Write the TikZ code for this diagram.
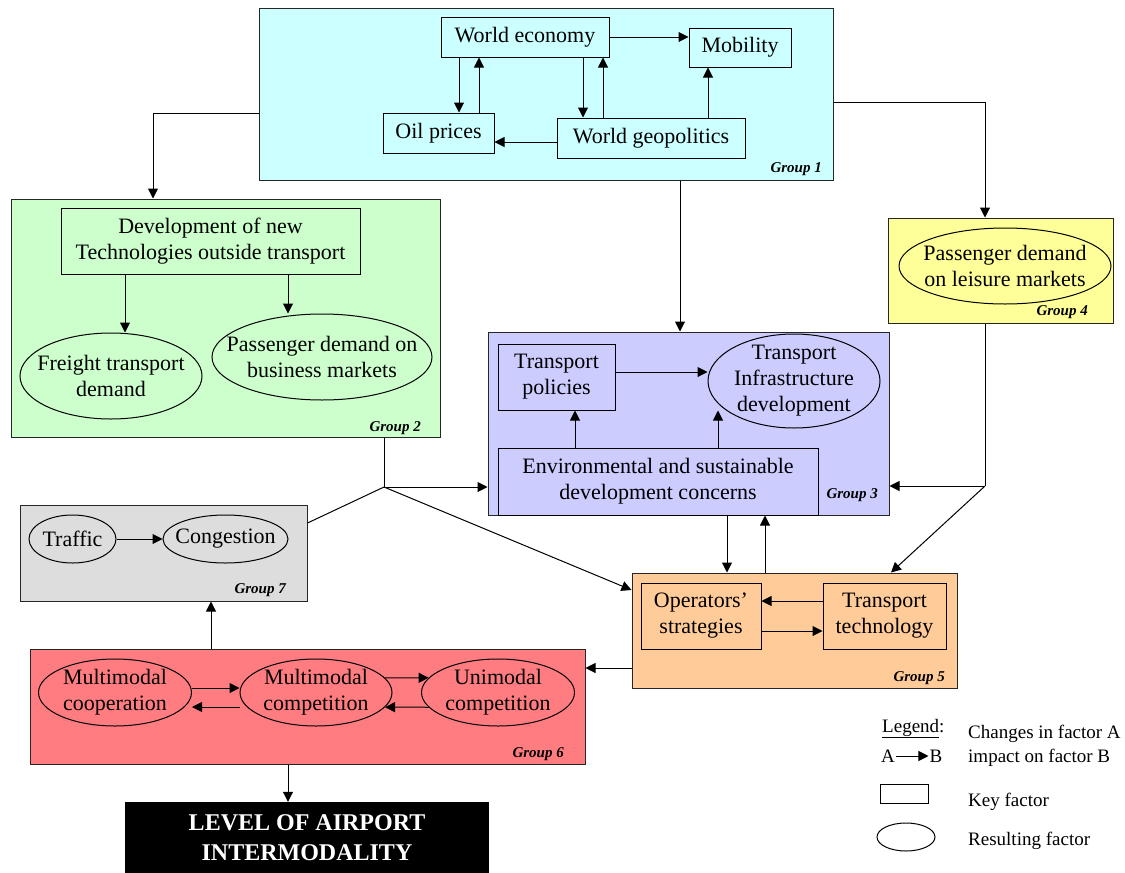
\documentclass[tikz,border=0pt]{standalone}
\usepackage{fontspec}
\setmainfont{Liberation Serif}
\usetikzlibrary{shapes.geometric,arrows.meta}
\definecolor{gcyan}{HTML}{CCFFFF}
\definecolor{ggreen}{HTML}{CCFFCC}
\definecolor{gviolet}{HTML}{CCCCFF}
\definecolor{gyellow}{HTML}{FFFF99}
\definecolor{gorange}{HTML}{FFCC99}
\definecolor{gred}{HTML}{FF7C80}
\definecolor{ggrey}{HTML}{DDDDDD}

\begin{document}
\begin{tikzpicture}[x=1pt,y=-1pt,font=\fontsize{22}{26}\selectfont]
        \tikzstyle{group}=[rectangle,draw=black!85,line width=1pt]
        \tikzstyle{keyf}=[rectangle,draw,line width=1pt,align=center,inner sep=2pt]
        \tikzstyle{resf}=[ellipse,draw,line width=1pt,inner sep=0pt]
        \tikzstyle{txt}=[align=center,inner sep=0pt]
        \tikzstyle{grp}=[anchor=base east,inner sep=0pt,font=\fontsize{15}{18}\selectfont\bfseries\itshape]
        \tikzstyle{arr}=[draw,line width=1pt,-{Triangle[length=10pt,width=10pt]}]
        \tikzstyle{line}=[draw,line width=1pt]
        \tikzstyle{legtxt}=[anchor=west,align=left,inner sep=0pt,font=\fontsize{19}{24}\selectfont]
        \useasboundingbox (0,0) rectangle (1125,873);
       \begin{scope}
         \node [group,fill=gcyan,minimum width=574,minimum height=172] (g1) at (546,94) {};
         \node [group,fill=ggreen,minimum width=429,minimum height=238] (g2) at (225.5,318) {};
         \node [group,fill=gviolet,minimum width=401,minimum height=183] (g3) at (688.5,423.5) {};
         \node [group,fill=gyellow,minimum width=225,minimum height=105] (g4) at (1000.5,270.5) {};
         \node [group,fill=gorange,minimum width=325,minimum height=115] (g5) at (794.5,630.5) {};
         \node [group,fill=gred,minimum width=555,minimum height=115] (g6) at (307.5,706.5) {};
         \node [group,fill=ggrey,minimum width=287,minimum height=96] (g7) at (163.5,553) {};

         \node [grp] (g1l) at (822,172) {Group 1};
         \node [grp] (g2l) at (421,431) {Group 2};
         \node [grp] (g3l) at (878,498) {Group 3};
         \node [grp] (g4l) at (1088,315) {Group 4};
         \node [grp] (g5l) at (945,681) {Group 5};
         \node [grp] (g6l) at (564,757) {Group 6};
         \node [grp] (g7l) at (286,593) {Group 7};

         \node [keyf,minimum width=168,minimum height=40] (we) at (525,37) {World economy};
         \node [keyf,minimum width=102,minimum height=39] (mob) at (740,47.5) {Mobility};
         \node [keyf,minimum width=111,minimum height=40] (op) at (438.5,133) {Oil prices};
         \node [keyf,minimum width=188,minimum height=40] (geo) at (651,138) {World geopolitics};
         \node [keyf,minimum width=299,minimum height=66] (dev) at (210.5,241) {Development of new\\Technologies outside transport};
         \node [keyf,minimum width=117,minimum height=66] (tp) at (556.5,377) {Transport\\policies};
         \node [keyf,minimum width=320,minimum height=67] (env) at (658,481.5) {Environmental and sustainable\\development concerns};
         \node [keyf,minimum width=120,minimum height=66] (os) at (701,616) {Operators'\\strategies};
         \node [keyf,minimum width=123,minimum height=66] (tt) at (884.5,616) {Transport\\technology};

         \node [resf,minimum width=182,minimum height=86,label={[txt]center:{Freight transport\\demand}}] (frt) at (111,376) {};
         \node [resf,minimum width=220,minimum height=86,label={[txt]center:{Passenger demand on\\business markets}}] (pbm) at (322,357) {};
         \node [resf,minimum width=172,minimum height=94,label={[txt]center:{Transport\\Infrastructure\\development}}] (tid) at (794,381) {};
         \node [resf,minimum width=212,minimum height=76,label={[txt]center:{Passenger demand\\on leisure markets}}] (pdl) at (1005,266) {};
         \node [resf,minimum width=87,minimum height=48,label={[txt]center:Traffic}] (trf) at (72.5,539) {};
         \node [resf,minimum width=125,minimum height=48,label={[txt]center:Congestion}] (cgs) at (225.5,539) {};
         \node [resf,minimum width=153,minimum height=67,label={[txt]center:{Multimodal\\cooperation}}] (mco) at (115,692.5) {};
         \node [resf,minimum width=152,minimum height=67,label={[txt]center:{Multimodal\\competition}}] (mcp) at (316,692.5) {};
         \node [resf,minimum width=153,minimum height=67,label={[txt]center:{Unimodal\\competition}}] (uni) at (498,692.5) {};

         \node [fill=black,text=white,align=center,minimum width=364,minimum height=71,font=\fontsize{24}{30}\selectfont\bfseries] (lvl) at (307,837.5) {LEVEL OF AIRPORT\\INTERMODALITY};

         \draw[arr] (we.east |- 0,37) -- (mob.west |- 0,37);
         \draw[arr] (459,0 |- we.south) -- (459,0 |- op.north);
         \draw[arr] (479,0 |- op.north) -- (479,0 |- we.south);
         \draw[arr] (583,0 |- we.south) -- (583,0 |- geo.north);
         \draw[arr] (603,0 |- geo.north) -- (603,0 |- we.south);
         \draw[arr] (708,0 |- geo.north) -- (708,0 |- mob.south);
         \draw[arr] (geo.west |- 0,142) -- (op.east |- 0,142);
         \draw[arr] (125,0 |- dev.south) -- (125,0 |- frt.north);
         \draw[arr] (288,0 |- dev.south) -- (288,0 |- pbm.north);
         \draw[arr] (tp.east |- 0,372) -- (tid.west |- 0,372);
         \draw[arr] (575,0 |- env.north) -- (575,0 |- tp.south);
         \draw[arr] (718,0 |- env.north) -- (718,0 |- tp.south);
         \draw[arr] (tt.west |- 0,601) -- (os.east |- 0,601);
         \draw[arr] (os.east |- 0,631) -- (tt.west |- 0,631);
         \draw[arr] (trf.east) -- (cgs.west);
         \draw[arr] (mco.east |- 0,688) -- (mcp.west |- 0,688);
         \draw[arr] (mcp.west |- 0,707) -- (mco.east |- 0,707);
         \draw[arr] (mcp.12) -- (uni.168);
         \draw[arr] (uni.192) -- (mcp.-12);

         \coordinate (j) at (384,487);
         \coordinate (k) at (985,486);
         \draw[arr] (g1.west |- 0,113) -| (153,0 |- g2.north);
         \draw[arr] (g1.east |- 0,102) -| (985,0 |- g4.north);
         \draw[arr] (680,0 |- g1.south) -- (680,0 |- g3.north);
         \draw[line] (384,0 |- g2.south) -- (j);
         \draw[arr] (j) -- (j -| g3.west);
         \draw[line] (j) -- (g7.east |- 0,523);
         \draw[arr] (j) -- (g5.west |- 0,590);
         \draw[line] (985,0 |- g4.south) -- (k);
         \draw[arr] (k) -- (k -| g3.east);
         \draw[arr] (k) -- (891,0 |- g5.north);
         \draw[arr] (727,0 |- g3.south) -- (727,0 |- g5.north);
         \draw[arr] (765,0 |- g5.north) -- (765,0 |- g3.south);
         \draw[arr] (g5.west |- 0,668) -- (g6.east |- 0,668);
         \draw[arr] (211,0 |- g6.north) -- (211,0 |- g7.south);
         \draw[arr] (288,0 |- g6.south) -- (288,0 |- lvl.north);

         \node [legtxt,anchor=base west] (leg) at (882,732) {\underline{Legend}:};
         \node [legtxt,anchor=center,inner sep=1pt] (la) at (888,756) {A};
         \node [legtxt,anchor=center,inner sep=1pt] (lb) at (936,756) {B};
         \draw[arr] (la) -- (lb);
         \node [legtxt] (lchg) at (968,746) {Changes in factor A\\impact on factor B};
         \node [keyf,minimum width=48,minimum height=19] (lkey) at (904,793.5) {};
         \node [legtxt] (lkeyt) at (968,802) {Key factor};
         \node [resf,minimum width=58,minimum height=28] (lres) at (906,837) {};
         \node [legtxt] (lrest) at (968,841) {Resulting factor};
        \end{scope}
      \end{tikzpicture}
\end{document}
